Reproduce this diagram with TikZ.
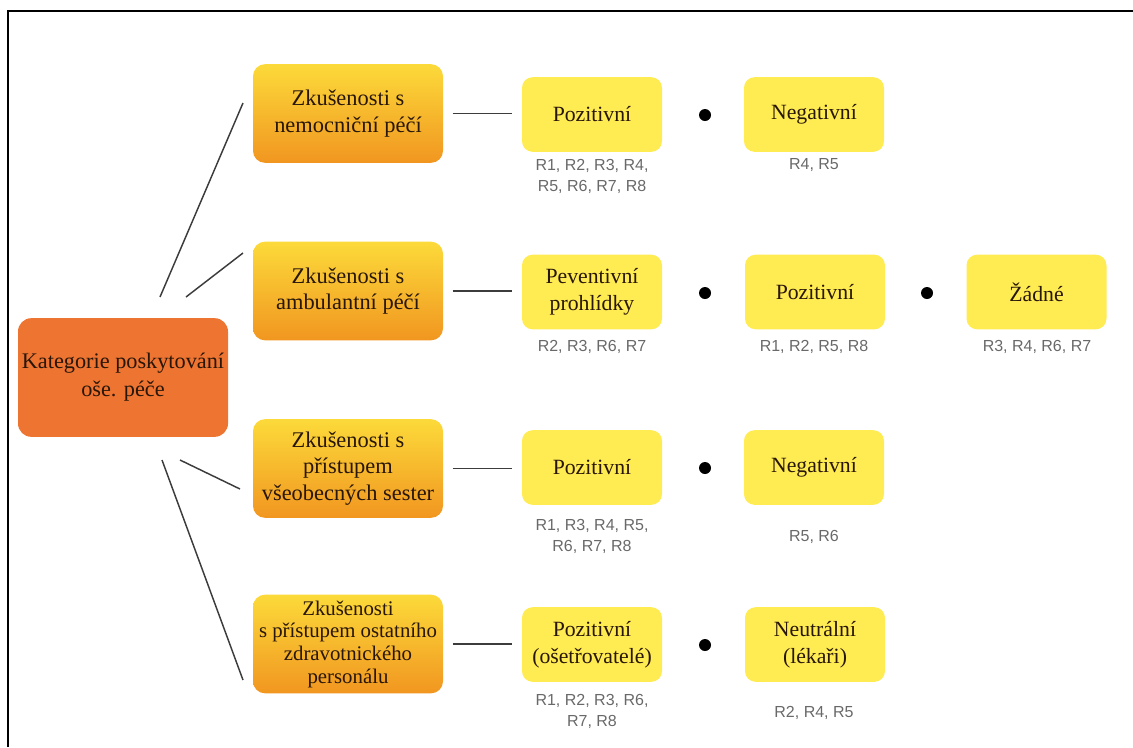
\documentclass[tikz,border=0pt]{standalone}
\usepackage{fontspec}
\setmainfont{Liberation Serif}
\newfontfamily\labfont{Liberation Sans}
\usepackage{tikz}
\definecolor{rootorange}{RGB}{238,116,50}
\definecolor{topyellow}{RGB}{252,218,58}
\definecolor{botorange}{RGB}{241,150,32}
\definecolor{leafyellow}{RGB}{255,235,82}
\definecolor{boxtext}{RGB}{40,22,8}
\definecolor{labgray}{RGB}{105,105,105}
\definecolor{linegray}{RGB}{60,60,60}
\tikzset{every picture/.style={line width=0.75pt}}
\tikzset{
  rootbox/.style={rounded corners=10pt, fill=rootorange, text=boxtext,
    minimum width=157.5pt, minimum height=89pt, inner sep=0pt, align=center,
    font=\fontsize{16.7}{21}\selectfont},
  catbox/.style={rounded corners=9pt, top color=topyellow, bottom color=botorange,
    text=boxtext, minimum width=142.5pt, minimum height=74pt, inner sep=0pt,
    align=center, font=\fontsize{16.8}{20}\selectfont},
  leafbox/.style={rounded corners=8pt, fill=leafyellow, text=boxtext,
    minimum width=105pt, minimum height=56pt, inner sep=0pt, align=center,
    font=\fontsize{16.3}{20}\selectfont},
  rlab/.style={text=labgray, align=center, inner sep=0pt,
    font=\labfont\fontsize{12}{15.75}\selectfont},
  bullet/.style={circle, fill=black, minimum size=9pt, inner sep=0pt},
  spoke/.style={draw=linegray, line width=1.1pt},
  link/.style={draw=linegray, line width=1.1pt, shorten <=6.75pt, shorten >=7.5pt}
}
\begin{document}
\begin{tikzpicture}[x=0.75pt,y=0.75pt,yscale=-1,xscale=1]
		\useasboundingbox (0,0) rectangle (1133,747);
		
		%Frame
		\draw [line width=2.2pt] (1133,11) -- (8,11) -- (8,747) ;
		
		% Root
		\node [rootbox] (root) at (123,377.5) {Kategorie poskytování\\oše. péče};
		
		% Categories
		\node [catbox] (zk1) at (348,113.5) {Zkušenosti s\\nemocniční péčí};
		\node [catbox] (zk2) at (348,291) {Zkušenosti s\\ambulantní péčí};
		\node [catbox] (zk3) at (348,468.5) {Zkušenosti s\\přístupem\\všeobecných sester};
		\node [catbox, font=\fontsize{15.6}{17}\selectfont] (zk4) at (348,644) {Zkušenosti\\s přístupem ostatního\\zdravotnického\\personálu};
		
		%Straight Lines: spokes
		\coordinate (sp1a) at (160,297); \coordinate (sp1b) at (243,103);
		\coordinate (sp2a) at (186,297); \coordinate (sp2b) at (243,253);
		\coordinate (sp3a) at (180,460); \coordinate (sp3b) at (240,489);
		\coordinate (sp4a) at (162,460); \coordinate (sp4b) at (243,680);
		\draw [spoke] (sp1a) -- (sp1b) ;
		\draw [spoke] (sp2a) -- (sp2b) ;
		\draw [spoke] (sp3a) -- (sp3b) ;
		\draw [spoke] (sp4a) -- (sp4b) ;
		
		% Row 1
		\node [leafbox] (poz1) at (592,114.5) {Pozitivní};
		\node [leafbox] (neg1) at (814,114.5) {Negativní};
		\node [bullet] (d11) at (705,115) {};
		\node [rlab] (r11) at (592,176) {R1, R2, R3, R4,\\R5, R6, R7, R8};
		\node [rlab] (r12) at (814,165) {R4, R5};
		
		% Row 2
		\node [leafbox] (pre2) at (592,292) {Peventivní\\prohlídky};
		\node [leafbox] (poz2) at (815,292) {Pozitivní};
		\node [leafbox] (zad2) at (1036.5,292) {Žádné};
		\node [bullet] (d21) at (705,293) {};
		\node [bullet] (d22) at (927,293) {};
		\node [rlab] (r21) at (592,347) {R2, R3, R6, R7};
		\node [rlab] (r22) at (814,347) {R1, R2, R5, R8};
		\node [rlab] (r23) at (1037,347) {R3, R4, R6, R7};
		
		% Row 3
		\node [leafbox] (poz3) at (592,467.5) {Pozitivní};
		\node [leafbox] (neg3) at (814,467.5) {Negativní};
		\node [bullet] (d31) at (705,468) {};
		\node [rlab] (r31) at (592,536) {R1, R3, R4, R5,\\R6, R7, R8};
		\node [rlab] (r32) at (814,537) {R5, R6};
		
		% Row 4
		\node [leafbox] (poz4) at (592,644.5) {Pozitivní\\(ošetřovatelé)};
		\node [leafbox] (neu4) at (815,644.5) {Neutrální\\(lékaři)};
		\node [bullet] (d41) at (705,645) {};
		\node [rlab] (r41) at (592,711) {R1, R2, R3, R6,\\R7, R8};
		\node [rlab] (r42) at (814,713) {R2, R4, R5};
		
		%Straight Lines: links
		\draw [link] (zk1.east) -- (zk1.east -| poz1.west) ;
		\draw [link] (zk2.east) -- (zk2.east -| pre2.west) ;
		\draw [link] (zk3.east) -- (zk3.east -| poz3.west) ;
		\draw [link] (zk4.east) -- (zk4.east -| poz4.west) ;
		
		\end{tikzpicture}
\end{document}
